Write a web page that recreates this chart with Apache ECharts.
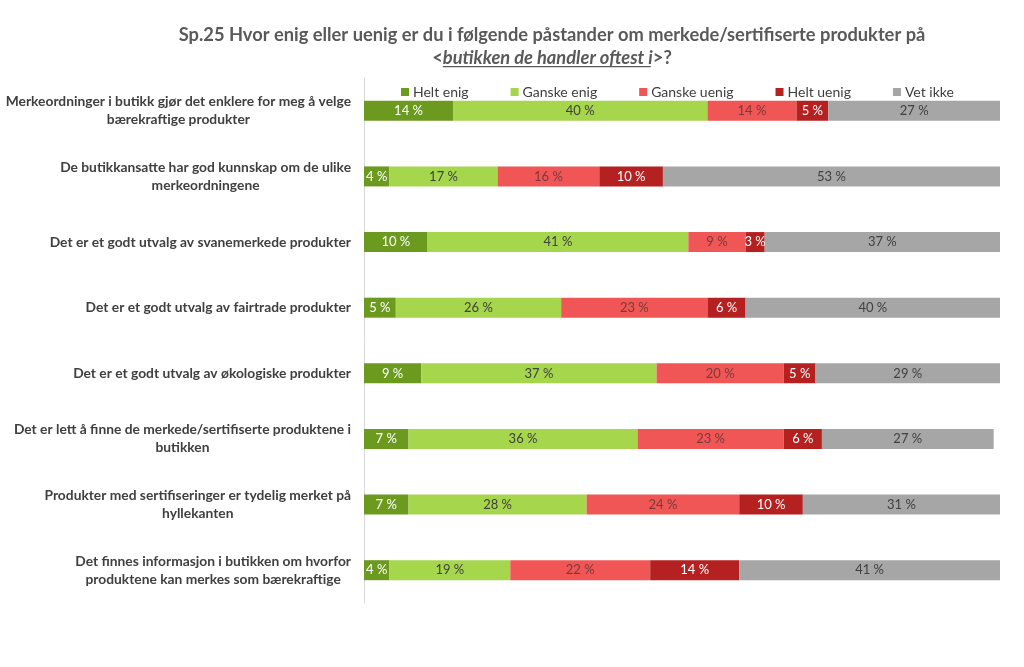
<!DOCTYPE html>
<html>
<head>
<meta charset="utf-8">
<script src="https://cdn.jsdelivr.net/npm/echarts@6/dist/echarts.min.js"></script>
<style>
html,body{margin:0;padding:0;background:#fff;}
#chart{width:1024px;height:667px;}
</style>
</head>
<body>
<div id="chart"></div>
<script>
const categories = [
  "Merkeordninger i butikk gjør det enklere for meg å velge\nbærekraftige produkter",
  "De butikkansatte har god kunnskap om de ulike\nmerkeordningene",
  "Det er et godt utvalg av svanemerkede produkter",
  "Det er et godt utvalg av fairtrade produkter",
  "Det er et godt utvalg av økologiske produkter",
  "Det er lett å finne de merkede/sertifiserte produktene i\nbutikken",
  "Produkter med sertifiseringer er tydelig merket på\nhyllekanten",
  "Det finnes informasjon i butikken om hvorfor\nproduktene kan merkes som bærekraftige"
];
const seriesNames = ["Helt enig", "Ganske enig", "Ganske uenig", "Helt uenig", "Vet ikke"];
const heltEnig    = [14, 4, 10, 5, 9, 7, 7, 4];
const ganskeEnig  = [40, 17, 41, 26, 37, 36, 28, 19];
const ganskeUenig = [14, 16, 9, 23, 20, 23, 24, 22];
const heltUenig   = [5, 10, 3, 6, 5, 6, 10, 14];
const vetIkke     = [27, 53, 37, 40, 29, 27, 31, 41];
const titleLine1 = "Sp.25 Hvor enig eller uenig er du i følgende påstander om merkede/sertifiserte produkter på";
const titlePre = "<";
const titleEm = "butikken de handler oftest i";
const titlePost = ">?";

const colors = ["#6b9a1f", "#a6d64c", "#f05656", "#b52121", "#a6a6a6"];
const labelColors = ["#ffffff", "#404040", "#7a3a3a", "#ffffff", "#404040"];
const values = [heltEnig, ganskeEnig, ganskeUenig, heltUenig, vetIkke];
const FONT = "Lato";

const chart = echarts.init(document.getElementById('chart'), null, {renderer: 'canvas'});

// measure title parts for underline placement
const cv = document.createElement('canvas').getContext('2d');
const tSize = 18.3;
cv.font = "bold " + tSize + "px " + FONT;
const wPre = cv.measureText(titlePre).width;
const wPost = cv.measureText(titlePost).width;
cv.font = "italic bold " + tSize + "px " + FONT;
const wEm = cv.measureText(titleEm).width;
const line2Total = wPre + wEm + wPost;
const tCenter = 552;
const l2Left = tCenter - line2Total / 2;
const y1 = 26.5, y2 = 49;

const series = seriesNames.map((n, i) => ({
  name: n,
  type: 'bar',
  stack: 'total',
  barWidth: 20,
  data: values[i],
  itemStyle: {color: colors[i]},
  label: {
    show: true,
    position: 'inside',
    formatter: p => p.value + ' %',
    color: labelColors[i],
    fontFamily: FONT,
    fontSize: 13
  },
  emphasis: {disabled: true}
}));

chart.setOption({
  animation: false,
  textStyle: {fontFamily: FONT},
  graphic: [
    {type: 'text', x: tCenter, y: y1, style: {text: titleLine1, font: "bold " + tSize + "px " + FONT, fill: '#595959', align: 'center', verticalAlign: 'top'}},
    {type: 'text', x: l2Left, y: y2, style: {text: titlePre, font: "bold " + tSize + "px " + FONT, fill: '#595959', align: 'left', verticalAlign: 'top'}},
    {type: 'text', x: l2Left + wPre, y: y2, style: {text: titleEm, font: "italic bold " + tSize + "px " + FONT, fill: '#595959', align: 'left', verticalAlign: 'top'}},
    {type: 'text', x: l2Left + wPre + wEm, y: y2, style: {text: titlePost, font: "bold " + tSize + "px " + FONT, fill: '#595959', align: 'left', verticalAlign: 'top'}},
    {type: 'rect', shape: {x: l2Left + wPre, y: y2 + 17, width: wEm - 2, height: 1.2}, style: {fill: '#595959'}}
  ],
  legend: {
    data: seriesNames,
    left: 396,
    top: 80,
    itemWidth: 8,
    itemHeight: 8,
    itemGap: 42,
    icon: 'rect',
    textStyle: {fontFamily: FONT, fontSize: 14, color: '#404040', padding: [0,0,0,-1]},
    selectedMode: false
  },
  grid: {left: 364, right: 24, top: 78, bottom: 64, containLabel: false, outerBoundsMode: 'none'},
  xAxis: {type: 'value', min: 0, max: 100, show: false},
  yAxis: {
    type: 'category',
    inverse: true,
    data: categories,
    axisTick: {show: false},
    axisLine: {show: true, lineStyle: {color: '#d9d9d9', width: 1}},
    axisLabel: {
      margin: 13,
      fontFamily: FONT,
      fontSize: 13.8,
      fontWeight: 'bold',
      color: '#404040',
      lineHeight: 18,
      formatter: v => v.split('\n').map(s => '{c|' + s + '}').join('\n'),
      rich: {c: {align: 'center', fontFamily: FONT, fontSize: 13.8, fontWeight: 'bold', color: '#404040', lineHeight: 18}}
    }
  },
  series: series
});
</script>
</body>
</html>
